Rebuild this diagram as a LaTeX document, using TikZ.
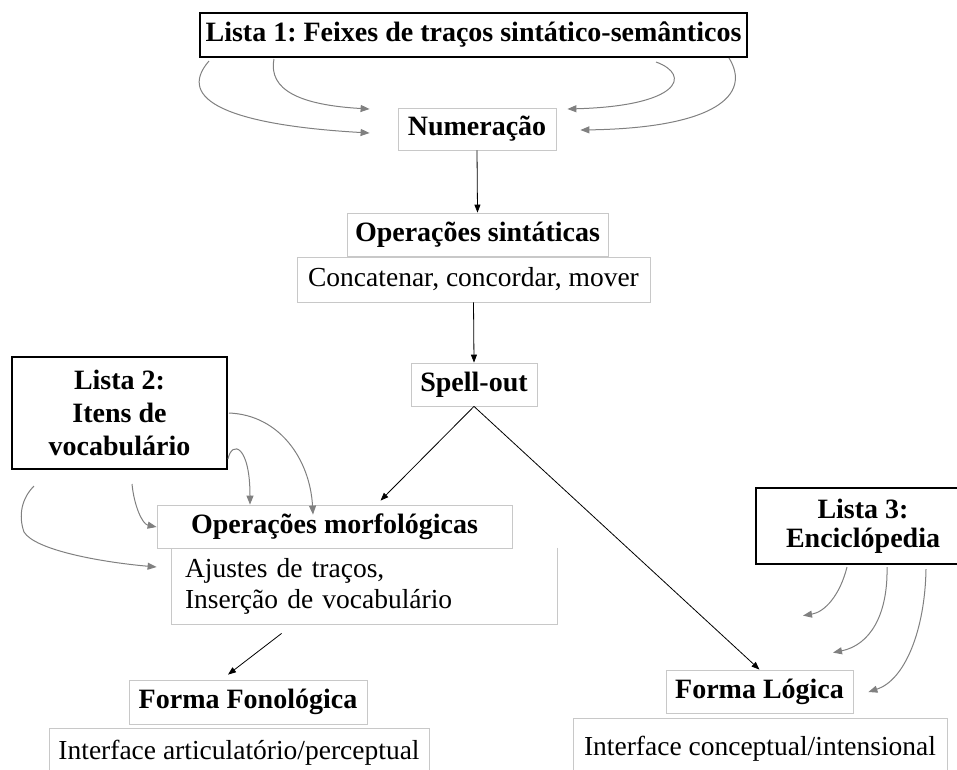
\documentclass[tikz,border=0pt]{standalone}
\usepackage{fontspec}
\setmainfont{Liberation Serif}
\usetikzlibrary{arrows.meta,calc}
\definecolor{boxgray}{HTML}{C8C8C8}
\definecolor{arrgray}{HTML}{808080}
\newcommand{\fsb}{\fontsize{28}{33}\selectfont\bfseries\frenchspacing}
\newcommand{\fsr}{\fontsize{27.5}{31}\selectfont\frenchspacing}
\begin{document}
\begin{tikzpicture}[x=1pt,y=-1pt,
  lightbox/.style={draw=boxgray, line width=0.8pt, inner sep=0pt, font=\fsr},
  boldbox/.style={draw=boxgray, line width=0.8pt, inner sep=0pt, font=\fsb},
  listbox/.style={draw=black, line width=2pt, inner sep=0pt, font=\fsb, align=center},
  garrow/.style={draw=arrgray, line width=1pt, -{Triangle[length=9pt,width=7pt]}},
  barrow/.style={draw=black, line width=0.8pt, -{Triangle[length=8pt,width=6pt]}}]
\useasboundingbox (0,0) rectangle (957,769);
\clip (0,0) rectangle (957,769);

% nodes
\node[listbox, minimum width=547pt, minimum height=44pt] (l1) at (473.5,35) {Lista 1: Feixes de traços sintático-semânticos};
\node[boldbox, minimum width=158pt, minimum height=42pt] (num) at (477,129) {Numeração};
\node[boldbox, minimum width=261pt, minimum height=43pt] (ops) at (477.5,234.5) {Operações sintáticas};
\node[lightbox, minimum width=353pt, minimum height=45pt] (conc) at (473.5,279.5) {Concatenar, concordar, mover};
\node[boldbox, minimum width=126pt, minimum height=43pt] (spell) at (474,384.5) {Spell-out};
\node[listbox, minimum width=215pt, minimum height=112pt] (l2) at (119.5,413) {Lista 2:\\Itens de\\vocabulário};
\node[lightbox, draw=none, inner xsep=13pt, text width=359pt, align=left, minimum height=76pt,
      font=\fontsize{27.5}{31}\selectfont] (aj) at (364.5,586) {Ajustes de traços,\\Inserção de vocabulário};
\draw[boxgray, line width=0.8pt] (aj.north east) -- (aj.south east) -- (aj.south west) -- (aj.north west);
\node[boldbox, minimum width=355pt, minimum height=43pt] (opm) at (334.5,526.5) {Operações morfológicas};
\node[boldbox, minimum width=238pt, minimum height=44pt] (ff) at (248,702) {Forma Fonológica};
\node[lightbox, minimum width=380pt, minimum height=50pt] (ia) at (239,753) {Interface articulatório/perceptual};
\node[boldbox, minimum width=187pt, minimum height=43pt] (fl) at (759.5,691.5) {Forma Lógica};
\node[lightbox, minimum width=374pt, minimum height=62pt] (ic) at (760,749) {Interface conceptual/intensional};
\node[listbox, minimum width=214pt, minimum height=76pt, font=\fontsize{28}{29}\selectfont\bfseries\frenchspacing] (l3) at (863,526) {Lista 3:\\Enciclópedia};

% black arrows
\draw[barrow] (num.south) -- (ops.north);
\draw[barrow] (conc.south) -- (spell.north);
\draw[barrow] (spell.south) -- ($(opm.north)+(46,-4)$);
\draw[barrow] (spell.south) -- (fl.north);
\draw[barrow] ($(aj.south west)+(110,9)$) -- ($(ff.north)+(-20,-5)$);

% Lista 1 arrows
\draw[garrow] ($(l1.south west)+(10,3)$) .. controls (175,100) and (230,125) .. ($(num.west)+(-28,4)$);
\draw[garrow] ($(l1.south west)+(75,1)$) .. controls (268,90) and (300,105) .. ($(num.west)+(-28,-20)$);
\draw[garrow] ($(l1.south east)+(-92,4)$) .. controls (692,75) and (680,106) .. ($(num.east)+(11,-20)$);
\draw[garrow] ($(l1.south east)+(-19,0)$) .. controls (752,95) and (715,128) .. ($(num.east)+(24,1)$);

% Lista 2 arrows
\draw[garrow] ($(l2.east)+(1,0)$) .. controls (280,415) and (310,460) .. ($(opm.north)+(-21.5,10)$);
\draw[garrow] ($(l2.south east)+(0,-11)$) .. controls (232,440) and (250,445) .. ($(opm.north)+(-84.5,0)$);
\draw[garrow] ($(l2.south)+(12.5,14)$) .. controls (134,505) and (142,524) .. ($(opm.west)+(0,0.5)$);
\draw[garrow] ($(l2.south west)+(23,16)$) .. controls (22,498) and (18,515) .. (24,532) .. controls (35,550) and (100,562) .. ($(aj.west)+(-15,-19)$);

% Lista 3 arrows
\draw[garrow] ($(l3.south west)+(92,2)$) .. controls (840,595) and (825,612) .. ($(fl.north)+(43.5,-54)$);
\draw[garrow] ($(l3.south west)+(132,2)$) .. controls (888,615) and (870,645) .. ($(fl.north)+(73.5,-17)$);
\draw[garrow] ($(l3.south west)+(171,4)$) .. controls (925,630) and (905,680) .. ($(fl.east)+(15,0.5)$);
\end{tikzpicture}
\end{document}
